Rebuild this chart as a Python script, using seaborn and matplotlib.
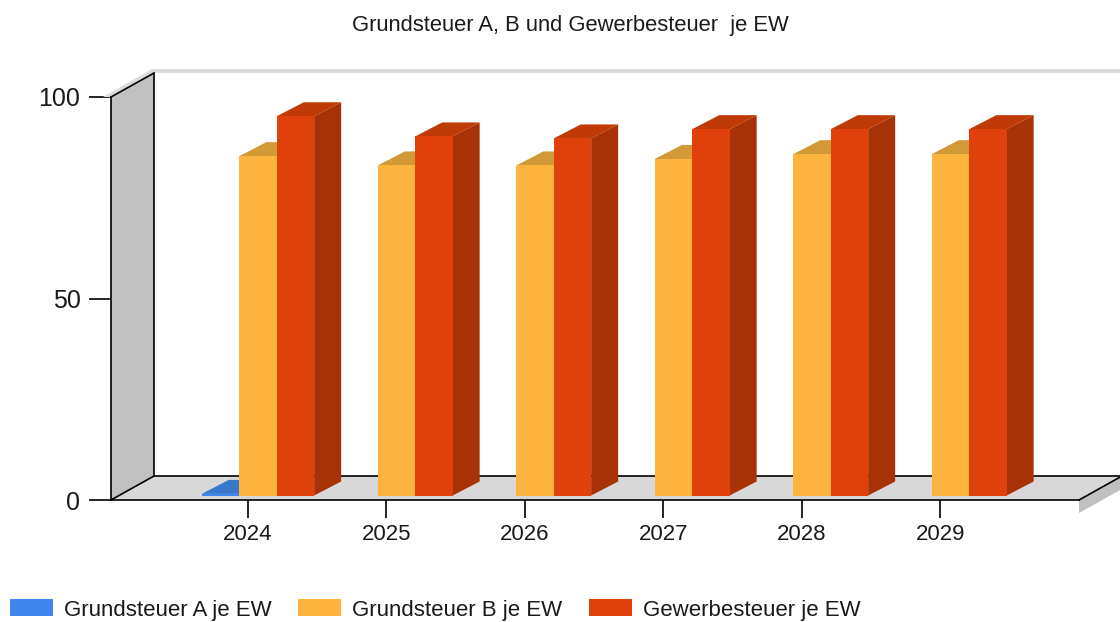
import matplotlib
matplotlib.use("Agg")
import matplotlib.pyplot as plt
from matplotlib.patches import Polygon
import pandas as pd
import seaborn as sns

years = ["2024", "2025", "2026", "2027", "2028", "2029"]
grundsteuer_a = [0.4, 0.4, 0.4, 0.4, 0.4, 0.4]
grundsteuer_a_visible = [True, False, False, False, False, False]
grundsteuer_b = [84.2, 81.9, 81.9, 83.5, 84.7, 84.7]
gewerbesteuer = [94.1, 89.1, 88.6, 90.9, 90.9, 90.9]

series_names = ["Grundsteuer A je EW", "Grundsteuer B je EW", "Gewerbesteuer je EW"]
front_colors = ["#3f86ef", "#fdb43f", "#e0400a"]
top_colors = ["#3a78cc", "#d29a36", "#c03a05"]
side_colors = ["#2f62a8", "#b98528", "#a63205"]

sns.set_theme(style="ticks")
plt.rcParams["font.family"] = ["Liberation Sans", "DejaVu Sans"]

df = pd.DataFrame({
    "year": years * 3,
    "value": grundsteuer_a + grundsteuer_b + gewerbesteuer,
    "series": sum([[n] * len(years) for n in series_names], []),
})

fig = plt.figure(figsize=(11.2, 6.22), dpi=100)
ax = fig.add_axes([111 / 1120, (622 - 500) / 622, (1079 - 111) / 1120, 403 / 622])

sns.barplot(data=df, x="year", y="value", hue="series", palette=front_colors,
            saturation=1, width=0.811, linewidth=0, zorder=3, ax=ax)

xmin, xmax = -0.989, 6.0
ax.set_xlim(xmin, xmax)
ax.set_ylim(0, 100)

# pixel sizes of the fake 3d look, in data units
px_x = 138.5
px_y = 4.03
wall_dx, wall_dy = 43 / px_x, 24 / px_y
bar_dx, bar_dy = 27 / px_x, 14 / px_y
shift_x, shift_y = 10 / px_x, 4.5 / px_y

# floor, left wall, right edge and top stripe
ax.add_patch(Polygon([(xmin, 0), (xmin + wall_dx, wall_dy), (xmax + wall_dx, wall_dy), (xmax, 0)],
                     color="#d8d8d8", lw=0, zorder=1, clip_on=False))
ax.add_patch(Polygon([(xmin, 0), (xmin + wall_dx, wall_dy), (xmin + wall_dx, 100 + wall_dy), (xmin, 100)],
                     color="#c0c0c0", lw=0, zorder=1, clip_on=False))
ax.add_patch(Polygon([(xmax, 0), (xmax + wall_dx, wall_dy), (xmax + wall_dx, wall_dy - 13 / px_y), (xmax, -13 / px_y)],
                     color="#c0c0c0", lw=0, zorder=1, clip_on=False))
ax.add_patch(Polygon([(xmin - 8 / px_x, 100), (xmin + wall_dx - 2 / px_x, 100 + wall_dy + 4 / px_y),
                      (xmax + wall_dx, 100 + wall_dy + 4 / px_y), (xmax + wall_dx, 100 + wall_dy),
                      (xmin + wall_dx, 100 + wall_dy), (xmin, 100)],
                     color="#dcdcdc", lw=0, zorder=1, clip_on=False))

line_kw = dict(color="black", lw=1.2, zorder=2, clip_on=False)
ax.plot([xmin, xmin + wall_dx], [0, wall_dy], **line_kw)
ax.plot([xmin, xmin + wall_dx], [100, 100 + wall_dy], **line_kw)
ax.plot([xmin + wall_dx, xmin + wall_dx], [wall_dy, 100 + wall_dy], **line_kw)
ax.plot([xmin + wall_dx, xmax + wall_dx], [wall_dy, wall_dy], **line_kw)
ax.plot([xmax, xmax + wall_dx], [0, wall_dy], **line_kw)

# bars: move the fronts into the floor, add top and side faces
for s, cont in enumerate(ax.containers):
    for i, bar in enumerate(cont):
        if s == 0 and not grundsteuer_a_visible[i]:
            bar.set_visible(False)
            continue
        bar.set_x(bar.get_x() + shift_x)
        bar.set_y(shift_y)
        x0 = bar.get_x()
        x1 = x0 + bar.get_width()
        y0 = shift_y
        y1 = y0 + bar.get_height()
        ax.add_patch(Polygon([(x0, y1), (x1, y1), (x1 + bar_dx, y1 + bar_dy), (x0 + bar_dx, y1 + bar_dy)],
                             color=top_colors[s], lw=0, zorder=2.5))
        ax.add_patch(Polygon([(x1, y0), (x1 + bar_dx, y0 + bar_dy), (x1 + bar_dx, y1 + bar_dy), (x1, y1)],
                             color=side_colors[s], lw=0, zorder=2.5))

sns.despine(ax=ax)
for sp in ax.spines.values():
    sp.set_color("black")
    sp.set_linewidth(1.2)

ax.set_xlabel("")
ax.set_ylabel("")
ax.set_yticks([0, 50, 100])
ax.tick_params(axis="x", length=13, width=1.2, color="black", labelsize=16, labelcolor="#1a1a1a", pad=4)
ax.tick_params(axis="y", length=16, width=1.2, color="black", labelsize=18, labelcolor="#1a1a1a", pad=6)
for label in ax.get_yticklabels():
    label.set_verticalalignment("center_baseline")

fig.text(570 / 1120, 1 - 26 / 622, "Grundsteuer A, B und Gewerbesteuer  je EW",
         ha="center", va="center", fontsize=15.8, color="#1a1a1a")

handles, labels = ax.get_legend_handles_labels()
ax.get_legend().remove()
fig.legend(handles, labels, ncol=3, loc="center left", bbox_to_anchor=(0, 1 - 610 / 622), frameon=False,
           fontsize=16, handlelength=1.94, handleheight=0.77, handletextpad=0.5,
           columnspacing=1.18, borderaxespad=0.25, borderpad=0.2, labelcolor="#1a1a1a")

fig.savefig("out.png", dpi=100)
